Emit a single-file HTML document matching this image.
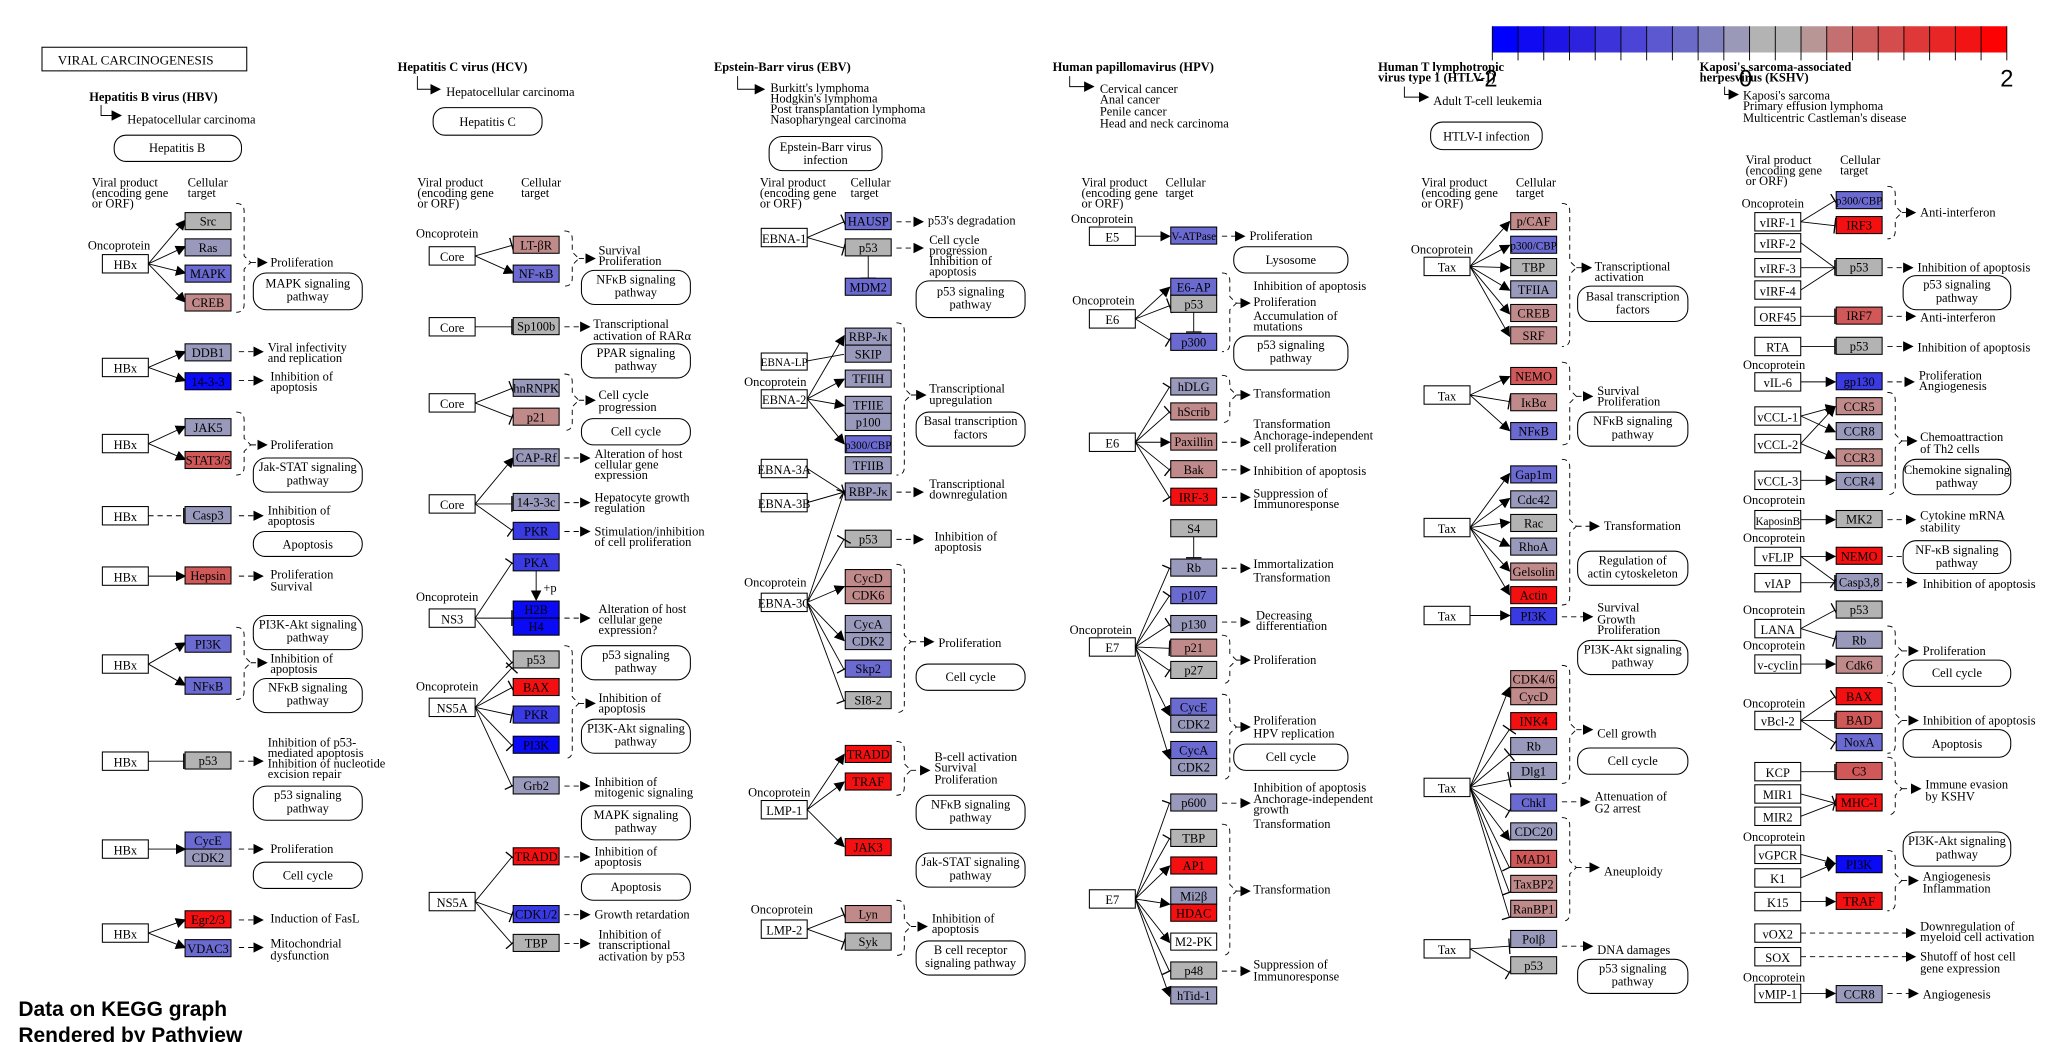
<!DOCTYPE html>
<html><head><meta charset="utf-8"><style>
html,body{margin:0;padding:0;background:#fff;width:2058px;height:1042px;overflow:hidden}
svg{display:block}
text{font-family:"Liberation Serif",serif;font-size:9.5px;fill:#000}
.h{font-weight:bold;font-size:9.5px}
.c{text-anchor:middle}
rect{stroke:#000;stroke-width:0.8}
.w{fill:#fff}.G{fill:#b3b3b3}.L{fill:#9999bb}.B{fill:#6a6ad0}.D{fill:#3a3ae2}.X{fill:#0a0af5}
.P{fill:#c08a8a}.M{fill:#d05858}.R{fill:#f41010}
.pw{fill:#fff;stroke:#000;stroke-width:0.8}
path,line{stroke:#000;stroke-width:0.7;fill:none}
.d{stroke-dasharray:4 3}
</style></head><body>
<svg width="2058" height="1042" viewBox="0 0 1568 794" preserveAspectRatio="none" xmlns="http://www.w3.org/2000/svg">
<defs>
<marker id="a" markerWidth="8" markerHeight="8" refX="7" refY="4" orient="auto" markerUnits="userSpaceOnUse"><path d="M0 0 L8 4 L0 8 Z" style="fill:#000;stroke:none"/></marker>
<marker id="i" markerWidth="2" markerHeight="12" refX="1" refY="6" orient="auto" markerUnits="userSpaceOnUse"><path d="M1 0 L1 12" style="stroke:#000;stroke-width:1"/></marker>
</defs>

<!-- colour bar -->
<g>
<rect x="1137" y="20" width="19.6" height="20" style="fill:#0000ff;stroke:none"/>
<rect x="1156.6" y="20" width="19.6" height="20" style="fill:#0f0af2;stroke:none"/>
<rect x="1176.2" y="20" width="19.6" height="20" style="fill:#1e14e6;stroke:none"/>
<rect x="1195.8" y="20" width="19.6" height="20" style="fill:#2d22de;stroke:none"/>
<rect x="1215.4" y="20" width="19.6" height="20" style="fill:#3c34da;stroke:none"/>
<rect x="1235" y="20" width="19.6" height="20" style="fill:#4b44d6;stroke:none"/>
<rect x="1254.6" y="20" width="19.6" height="20" style="fill:#5c58cf;stroke:none"/>
<rect x="1274.2" y="20" width="19.6" height="20" style="fill:#6c6ac7;stroke:none"/>
<rect x="1293.8" y="20" width="19.6" height="20" style="fill:#8080bf;stroke:none"/>
<rect x="1313.4" y="20" width="19.6" height="20" style="fill:#9a9ab8;stroke:none"/>
<rect x="1333" y="20" width="19.6" height="20" style="fill:#b3b3b3;stroke:none"/>
<rect x="1352.6" y="20" width="19.6" height="20" style="fill:#b3b3b3;stroke:none"/>
<rect x="1372.2" y="20" width="19.6" height="20" style="fill:#b89696;stroke:none"/>
<rect x="1391.8" y="20" width="19.6" height="20" style="fill:#c47070;stroke:none"/>
<rect x="1411.4" y="20" width="19.6" height="20" style="fill:#cc5c5c;stroke:none"/>
<rect x="1431" y="20" width="19.6" height="20" style="fill:#d44c4c;stroke:none"/>
<rect x="1450.6" y="20" width="19.6" height="20" style="fill:#de3838;stroke:none"/>
<rect x="1470.2" y="20" width="19.6" height="20" style="fill:#e82626;stroke:none"/>
<rect x="1489.8" y="20" width="19.6" height="20" style="fill:#f21414;stroke:none"/>
<rect x="1509.4" y="20" width="19.6" height="20" style="fill:#fc0202;stroke:none"/>
<path d="M1137 20 V46 M1156.6 20 V46 M1176.2 20 V46 M1195.8 20 V46 M1215.4 20 V46 M1235 20 V46 M1254.6 20 V46 M1274.2 20 V46 M1293.8 20 V46 M1313.4 20 V46 M1333 20 V46 M1352.6 20 V46 M1372.2 20 V46 M1391.8 20 V46 M1411.4 20 V46 M1431 20 V46 M1450.6 20 V46 M1470.2 20 V46 M1489.8 20 V46 M1509.4 20 V46 M1529 20 V46"/>
<text x="1125" y="66" style="font-family:'Liberation Sans',sans-serif;font-size:18px">-2</text>
<text x="1325" y="66" style="font-family:'Liberation Sans',sans-serif;font-size:18px">0</text>
<text x="1524" y="66" style="font-family:'Liberation Sans',sans-serif;font-size:18px">2</text>
</g>

<rect x="32" y="36" width="156" height="18" class="w"/>
<text x="44" y="49" style="font-size:10px">VIRAL  CARCINOGENESIS</text>
<text x="14" y="774" style="font-family:'Liberation Sans',sans-serif;font-size:16px;font-weight:bold">Data on KEGG graph</text>
<text x="14" y="794" style="font-family:'Liberation Sans',sans-serif;font-size:16px;font-weight:bold">Rendered by Pathview</text>

<!-- ============ HBV ============ -->
<text x="68" y="77" class="h">Hepatitis B virus (HBV)</text>
<path d="M77 80 V88 H92" marker-end="url(#a)"/>
<text x="97" y="94">Hepatocellular carcinoma</text>
<rect x="87" y="103" width="97" height="20" rx="9" class="pw"/><text x="135" y="116" class="c">Hepatitis B</text>
<text x="70" y="142">Viral product</text><text x="70" y="150">(encoding gene</text><text x="70" y="158">or ORF)</text>
<text x="143" y="142">Cellular</text><text x="143" y="150">target</text>

<text x="67" y="190">Oncoprotein</text>
<rect x="78" y="194" width="35" height="14" class="w"/><text x="95.5" y="205" class="c">HBx</text>
<path d="M113 201 L141 168" marker-end="url(#a)"/><path d="M113 201 L141 188" marker-end="url(#a)"/><path d="M113 201 L141 208" marker-end="url(#a)"/><path d="M113 201 L141 230" marker-end="url(#a)"/>
<rect x="141" y="162" width="35" height="13" class="G"/><text x="158.5" y="172" class="c">Src</text>
<rect x="141" y="182" width="35" height="13" class="L"/><text x="158.5" y="192" class="c">Ras</text>
<rect x="141" y="202" width="35" height="13" class="B"/><text x="158.5" y="212" class="c">MAPK</text>
<rect x="141" y="224" width="35" height="13" class="P"/><text x="158.5" y="234" class="c">CREB</text>
<path class="d" d="M180 155 Q186 155 186 161 V195 L191 200 L186 205 V232 Q186 238 180 238"/>
<path class="d" d="M191 200 H203" marker-end="url(#a)"/>
<text x="206" y="203">Proliferation</text>
<rect x="193" y="208" width="83" height="28" rx="10" class="pw"/><text x="234.5" y="219" class="c">MAPK signaling</text><text x="234.5" y="229" class="c">pathway</text>

<rect x="78" y="273" width="35" height="14" class="w"/><text x="95.5" y="284" class="c">HBx</text>
<path d="M113 280 L141 268" marker-end="url(#a)"/><path d="M113 280 L141 290" marker-end="url(#a)"/>
<rect x="141" y="262" width="35" height="13" class="L"/><text x="158.5" y="272" class="c">DDB1</text>
<rect x="141" y="284" width="35" height="13" class="X"/><text x="158.5" y="294" class="c">14-3-3</text>
<path class="d" d="M182 268 H200" marker-end="url(#a)"/><path class="d" d="M182 290 H200" marker-end="url(#a)"/>
<text x="204" y="268">Viral infectivity</text><text x="204" y="276">and replication</text>
<text x="206" y="290">Inhibition of</text><text x="206" y="298">apoptosis</text>

<rect x="78" y="331" width="35" height="14" class="w"/><text x="95.5" y="342" class="c">HBx</text>
<path d="M113 338 L141 325" marker-end="url(#a)"/><path d="M113 338 L141 350" marker-end="url(#a)"/>
<rect x="141" y="319" width="35" height="13" class="L"/><text x="158.5" y="329" class="c">JAK5</text>
<rect x="141" y="344" width="35" height="13" class="M"/><text x="158.5" y="354" class="c">STAT3/5</text>
<path class="d" d="M180 314 Q186 314 186 320 V334 L191 339 L186 344 V356 Q186 362 180 362"/>
<path class="d" d="M191 339 H203" marker-end="url(#a)"/>
<text x="206" y="342">Proliferation</text>
<rect x="193" y="349" width="83" height="26" rx="10" class="pw"/><text x="234.5" y="359" class="c">Jak-STAT signaling</text><text x="234.5" y="369" class="c">pathway</text>

<rect x="78" y="386" width="35" height="14" class="w"/><text x="95.5" y="397" class="c">HBx</text>
<path class="d" d="M113 393 H140" marker-end="url(#i)"/>
<rect x="141" y="386" width="35" height="13" class="L"/><text x="158.5" y="396" class="c">Casp3</text>
<path class="d" d="M182 393 H200" marker-end="url(#a)"/>
<text x="204" y="392">Inhibition of</text><text x="204" y="400">apoptosis</text>
<rect x="193" y="405" width="83" height="19" rx="9" class="pw"/><text x="234.5" y="418" class="c">Apoptosis</text>

<rect x="78" y="432" width="35" height="14" class="w"/><text x="95.5" y="443" class="c">HBx</text>
<path d="M113 439 H141" marker-end="url(#a)"/>
<rect x="141" y="432" width="35" height="13" class="M"/><text x="158.5" y="442" class="c">Hepsin</text>
<path class="d" d="M182 439 H200" marker-end="url(#a)"/>
<text x="206" y="441">Proliferation</text><text x="206" y="450">Survival</text>

<rect x="193" y="469" width="83" height="26" rx="10" class="pw"/><text x="234.5" y="479" class="c">PI3K-Akt signaling</text><text x="234.5" y="489" class="c">pathway</text>
<rect x="78" y="499" width="35" height="14" class="w"/><text x="95.5" y="510" class="c">HBx</text>
<path d="M113 506 L141 490" marker-end="url(#a)"/><path d="M113 506 L141 522" marker-end="url(#a)"/>
<rect x="141" y="484" width="35" height="13" class="B"/><text x="158.5" y="494" class="c">PI3K</text>
<rect x="141" y="516" width="35" height="13" class="B"/><text x="158.5" y="526" class="c">NFκB</text>
<path class="d" d="M180 478 Q186 478 186 484 V500 L191 505 L186 510 V527 Q186 533 180 533"/>
<path class="d" d="M191 505 H203" marker-end="url(#a)"/>
<text x="206" y="505">Inhibition of</text><text x="206" y="513">apoptosis</text>
<rect x="193" y="517" width="83" height="26" rx="10" class="pw"/><text x="234.5" y="527" class="c">NFκB signaling</text><text x="234.5" y="537" class="c">pathway</text>

<rect x="78" y="573" width="35" height="14" class="w"/><text x="95.5" y="584" class="c">HBx</text>
<path d="M113 580 H140" marker-end="url(#i)"/>
<rect x="141" y="573" width="35" height="13" class="G"/><text x="158.5" y="583" class="c">p53</text>
<path class="d" d="M182 580 H200" marker-end="url(#a)"/>
<text x="204" y="569">Inhibition of p53-</text><text x="204" y="577">mediated apoptosis</text><text x="204" y="585">Inhibition of nucleotide</text><text x="204" y="593">excision repair</text>
<rect x="193" y="599" width="83" height="26" rx="10" class="pw"/><text x="234.5" y="609" class="c">p53 signaling</text><text x="234.5" y="619" class="c">pathway</text>

<rect x="78" y="640" width="35" height="14" class="w"/><text x="95.5" y="651" class="c">HBx</text>
<path d="M113 647 H141" marker-end="url(#a)"/>
<rect x="141" y="634" width="35" height="13" class="B"/><text x="158.5" y="644" class="c">CycE</text>
<rect x="141" y="647" width="35" height="13" class="L"/><text x="158.5" y="657" class="c">CDK2</text>
<path class="d" d="M182 647 H200" marker-end="url(#a)"/>
<text x="206" y="650">Proliferation</text>
<rect x="193" y="657" width="83" height="20" rx="9" class="pw"/><text x="234.5" y="670" class="c">Cell cycle</text>

<rect x="78" y="704" width="35" height="14" class="w"/><text x="95.5" y="715" class="c">HBx</text>
<path d="M113 711 L141 701" marker-end="url(#a)"/><path d="M113 711 L141 722" marker-end="url(#a)"/>
<rect x="141" y="694" width="35" height="13" class="R"/><text x="158.5" y="704" class="c">Egr2/3</text>
<rect x="141" y="716" width="35" height="13" class="B"/><text x="158.5" y="726" class="c">VDAC3</text>
<path class="d" d="M182 701 H200" marker-end="url(#a)"/><path class="d" d="M182 722 H200" marker-end="url(#a)"/>
<text x="206" y="703">Induction of FasL</text>
<text x="206" y="722">Mitochondrial</text><text x="206" y="731">dysfunction</text>

<!-- ============ HCV ============ -->
<text x="303" y="54" class="h">Hepatitis C virus (HCV)</text>
<path d="M318 58 V68 H335" marker-end="url(#a)"/>
<text x="340" y="73">Hepatocellular carcinoma</text>
<rect x="330" y="82" width="83" height="21" rx="9" class="pw"/><text x="371.5" y="96" class="c">Hepatitis C</text>
<text x="318" y="142">Viral product</text><text x="318" y="150">(encoding gene</text><text x="318" y="158">or ORF)</text>
<text x="397" y="142">Cellular</text><text x="397" y="150">target</text>

<text x="317" y="181">Oncoprotein</text>
<rect x="327" y="188" width="35" height="14" class="w"/><text x="344.5" y="199" class="c">Core</text>
<path d="M362 195 L390 187" marker-end="url(#i)"/><path d="M362 195 L391 208" marker-end="url(#a)"/>
<rect x="391" y="180" width="35" height="13" class="P"/><text x="408.5" y="190" class="c">LT-βR</text>
<rect x="391" y="202" width="35" height="13" class="B"/><text x="408.5" y="212" class="c">NF-κB</text>
<path class="d" d="M430 176 Q436 176 436 182 V192 L441 197 L436 202 V212 Q436 218 430 218"/>
<path class="d" d="M441 197 H453" marker-end="url(#a)"/>
<text x="456" y="194">Survival</text><text x="456" y="202">Proliferation</text>
<rect x="443" y="206" width="83" height="26" rx="10" class="pw"/><text x="484.5" y="216" class="c">NFκB signaling</text><text x="484.5" y="226" class="c">pathway</text>

<rect x="327" y="242" width="35" height="14" class="w"/><text x="344.5" y="253" class="c">Core</text>
<path d="M362 249 H390" marker-end="url(#i)"/>
<rect x="391" y="242" width="35" height="13" class="G"/><text x="408.5" y="252" class="c">Sp100b</text>
<path class="d" d="M430 249 H449" marker-end="url(#a)"/>
<text x="452" y="250">Transcriptional</text><text x="452" y="259">activation of RARα</text>
<rect x="443" y="262" width="83" height="26" rx="10" class="pw"/><text x="484.5" y="272" class="c">PPAR signaling</text><text x="484.5" y="282" class="c">pathway</text>

<rect x="327" y="300" width="35" height="14" class="w"/><text x="344.5" y="311" class="c">Core</text>
<path d="M362 307 L390 296" marker-end="url(#i)"/><path d="M362 307 L390 318" marker-end="url(#i)"/>
<rect x="391" y="289" width="35" height="13" class="L"/><text x="408.5" y="299" class="c">hnRNPK</text>
<rect x="391" y="311" width="35" height="13" class="P"/><text x="408.5" y="321" class="c">p21</text>
<path class="d" d="M430 285 Q436 285 436 291 V300 L441 305 L436 310 V322 Q436 328 430 328"/>
<path class="d" d="M441 305 H453" marker-end="url(#a)"/>
<text x="456" y="304">Cell cycle</text><text x="456" y="313">progression</text>
<rect x="443" y="319" width="83" height="20" rx="9" class="pw"/><text x="484.5" y="332" class="c">Cell cycle</text>

<rect x="327" y="377" width="35" height="14" class="w"/><text x="344.5" y="388" class="c">Core</text>
<path d="M362 384 L391 349" marker-end="url(#a)"/><path d="M362 384 H390" marker-end="url(#i)"/><path d="M362 384 L390 404" marker-end="url(#i)"/>
<rect x="391" y="342" width="35" height="13" class="L"/><text x="408.5" y="352" class="c">CAP-Rf</text>
<rect x="391" y="376" width="35" height="13" class="L"/><text x="408.5" y="386" class="c">14-3-3c</text>
<rect x="391" y="398" width="35" height="13" class="D"/><text x="408.5" y="408" class="c">PKR</text>
<path class="d" d="M430 349 H449" marker-end="url(#a)"/><path class="d" d="M430 383 H449" marker-end="url(#a)"/><path class="d" d="M430 405 H449" marker-end="url(#a)"/>
<text x="453" y="349">Alteration of host</text><text x="453" y="357">cellular gene</text><text x="453" y="365">expression</text>
<text x="453" y="382">Hepatocyte growth</text><text x="453" y="390">regulation</text>
<text x="453" y="408">Stimulation/inhibition</text><text x="453" y="416">of cell proliferation</text>

<text x="317" y="458">Oncoprotein</text>
<rect x="327" y="464" width="35" height="14" class="w"/><text x="344.5" y="475" class="c">NS3</text>
<path d="M362 471 L390 429" marker-end="url(#i)"/><path d="M362 471 H390" marker-end="url(#i)"/><path d="M362 471 L390 505" marker-end="url(#i)"/>
<rect x="391" y="422" width="35" height="13" class="D"/><text x="408.5" y="432" class="c">PKA</text>
<path d="M408.5 435 V457" marker-end="url(#a)"/><text x="414" y="451">+p</text>
<rect x="391" y="458" width="35" height="13" class="X"/><text x="408.5" y="468" class="c">H2B</text>
<rect x="391" y="471" width="35" height="13" class="X"/><text x="408.5" y="481" class="c">H4</text>
<path class="d" d="M430 471 H449" marker-end="url(#a)"/>
<text x="456" y="467">Alteration of host</text><text x="456" y="475">cellular gene</text><text x="456" y="483">expression?</text>

<text x="317" y="526">Oncoprotein</text>
<rect x="327" y="532" width="35" height="14" class="w"/><text x="344.5" y="543" class="c">NS5A</text>
<path d="M362 539 L390 509" marker-end="url(#i)"/><path d="M362 539 L390 524" marker-end="url(#i)"/><path d="M362 539 L390 545" marker-end="url(#i)"/><path d="M362 539 L390 568" marker-end="url(#i)"/><path d="M362 539 L390 599" marker-end="url(#i)"/>
<rect x="391" y="496" width="35" height="13" class="G"/><text x="408.5" y="506" class="c">p53</text>
<rect x="391" y="517" width="35" height="13" class="R"/><text x="408.5" y="527" class="c">BAX</text>
<rect x="391" y="538" width="35" height="13" class="D"/><text x="408.5" y="548" class="c">PKR</text>
<rect x="391" y="561" width="35" height="13" class="X"/><text x="408.5" y="571" class="c">PI3K</text>
<path class="d" d="M430 492 Q436 492 436 498 V531 L441 536 L436 541 V572 Q436 578 430 578"/>
<path class="d" d="M441 536 H453" marker-end="url(#a)"/>
<rect x="443" y="492" width="83" height="26" rx="10" class="pw"/><text x="484.5" y="502" class="c">p53 signaling</text><text x="484.5" y="512" class="c">pathway</text>
<text x="456" y="535">Inhibition of</text><text x="456" y="543">apoptosis</text>
<rect x="443" y="548" width="83" height="26" rx="10" class="pw"/><text x="484.5" y="558" class="c">PI3K-Akt signaling</text><text x="484.5" y="568" class="c">pathway</text>
<rect x="391" y="592" width="35" height="13" class="L"/><text x="408.5" y="602" class="c">Grb2</text>
<path class="d" d="M430 599 H449" marker-end="url(#a)"/>
<text x="453" y="599">Inhibition of</text><text x="453" y="607">mitogenic signaling</text>
<rect x="443" y="614" width="83" height="26" rx="10" class="pw"/><text x="484.5" y="624" class="c">MAPK signaling</text><text x="484.5" y="634" class="c">pathway</text>

<rect x="327" y="680" width="35" height="14" class="w"/><text x="344.5" y="691" class="c">NS5A</text>
<path d="M362 687 L390 653" marker-end="url(#i)"/><path d="M362 687 L390 697" marker-end="url(#i)"/><path d="M362 687 L390 719" marker-end="url(#i)"/>
<rect x="391" y="646" width="35" height="13" class="R"/><text x="408.5" y="656" class="c">TRADD</text>
<rect x="391" y="690" width="35" height="13" class="D"/><text x="408.5" y="700" class="c">CDK1/2</text>
<rect x="391" y="712" width="35" height="13" class="G"/><text x="408.5" y="722" class="c">TBP</text>
<path class="d" d="M430 653 H449" marker-end="url(#a)"/><path class="d" d="M430 697 H449" marker-end="url(#a)"/><path class="d" d="M430 719 H449" marker-end="url(#a)"/>
<text x="453" y="652">Inhibition of</text><text x="453" y="660">apoptosis</text>
<rect x="443" y="666" width="83" height="20" rx="9" class="pw"/><text x="484.5" y="679" class="c">Apoptosis</text>
<text x="453" y="700">Growth retardation</text>
<text x="456" y="715">Inhibition of</text><text x="456" y="723">transcriptional</text><text x="456" y="732">activation by p53</text>

<!-- ============ EBV ============ -->
<text x="544" y="54" class="h">Epstein-Barr virus (EBV)</text>
<path d="M562 58 V68 H582" marker-end="url(#a)"/>
<text x="587" y="70">Burkitt's lymphoma</text><text x="587" y="78">Hodgkin's lymphoma</text><text x="587" y="86">Post transplantation lymphoma</text><text x="587" y="94">Nasopharyngeal carcinoma</text>
<rect x="586" y="104" width="86" height="26" rx="10" class="pw"/><text x="629" y="115" class="c">Epstein-Barr virus</text><text x="629" y="125" class="c">infection</text>
<text x="579" y="142">Viral product</text><text x="579" y="150">(encoding gene</text><text x="579" y="158">or ORF)</text>
<text x="648" y="142">Cellular</text><text x="648" y="150">target</text>

<rect x="580" y="174" width="35" height="14" class="w"/><text x="597.5" y="185" class="c">EBNA-1</text>
<path d="M615 181 L643 169" marker-end="url(#i)"/><path d="M615 181 L643 189" marker-end="url(#i)"/>
<rect x="644" y="162" width="35" height="13" class="B"/><text x="661.5" y="172" class="c">HAUSP</text>
<rect x="644" y="182" width="35" height="13" class="G"/><text x="661.5" y="192" class="c">p53</text>
<path d="M661.5 195 V212" marker-end="url(#i)"/>
<rect x="644" y="212" width="35" height="13" class="B"/><text x="661.5" y="222" class="c">MDM2</text>
<path class="d" d="M683 169 H703" marker-end="url(#a)"/><path class="d" d="M683 189 H703" marker-end="url(#a)"/>
<text x="707" y="171">p53's degradation</text>
<text x="708" y="186">Cell cycle</text><text x="708" y="194">progression</text><text x="708" y="202">Inhibition of</text><text x="708" y="210">apoptosis</text>
<rect x="698" y="214" width="83" height="28" rx="10" class="pw"/><text x="739.5" y="225" class="c">p53 signaling</text><text x="739.5" y="235" class="c">pathway</text>

<rect x="580" y="269" width="35" height="13" class="w"/><text x="597.5" y="279" class="c" style="font-size:8.5px">EBNA-LP</text>
<text x="567" y="294">Oncoprotein</text>
<rect x="580" y="297" width="35" height="14" class="w"/><text x="597.5" y="308" class="c">EBNA-2</text>
<path d="M615 304 L643 256" marker-end="url(#a)"/><path d="M615 304 L643 289" marker-end="url(#a)"/><path d="M615 304 L643 309" marker-end="url(#a)"/><path d="M615 304 L643 338" marker-end="url(#a)"/><path d="M615 275 L643 270"/>
<rect x="644" y="250" width="35" height="13" class="L"/><text x="661.5" y="260" class="c">RBP-Jκ</text>
<rect x="644" y="263" width="35" height="13" class="L"/><text x="661.5" y="273" class="c">SKIP</text>
<rect x="644" y="282" width="35" height="13" class="L"/><text x="661.5" y="292" class="c">TFIIH</text>
<rect x="644" y="302" width="35" height="13" class="L"/><text x="661.5" y="312" class="c">TFIIE</text>
<rect x="644" y="315" width="35" height="13" class="L"/><text x="661.5" y="325" class="c">p100</text>
<rect x="644" y="332" width="35" height="13" class="B"/><text x="661.5" y="342" class="c" style="font-size:8.5px">p300/CBP</text>
<rect x="644" y="348" width="35" height="13" class="L"/><text x="661.5" y="358" class="c">TFIIB</text>
<path class="d" d="M683 246 Q689 246 689 252 V296 L694 301 L689 306 V356 Q689 362 683 362"/>
<path class="d" d="M694 301 H705" marker-end="url(#a)"/>
<text x="708" y="299">Transcriptional</text><text x="708" y="308">upregulation</text>
<rect x="698" y="314" width="83" height="26" rx="10" class="pw"/><text x="739.5" y="324" class="c">Basal transcription</text><text x="739.5" y="334" class="c">factors</text>

<rect x="580" y="350" width="35" height="14" class="w"/><text x="597.5" y="361" class="c">EBNA-3A</text>
<rect x="580" y="376" width="35" height="14" class="w"/><text x="597.5" y="387" class="c">EBNA-3B</text>
<path d="M615 357 L643 375" marker-end="url(#i)"/><path d="M615 383 L643 375" marker-end="url(#i)"/><path d="M615 459 L643 375" marker-end="url(#i)"/>
<rect x="644" y="368" width="35" height="13" class="L"/><text x="661.5" y="378" class="c">RBP-Jκ</text>
<path class="d" d="M683 375 H703" marker-end="url(#a)"/>
<text x="708" y="372">Transcriptional</text><text x="708" y="380">downregulation</text>

<rect x="644" y="404" width="35" height="13" class="G"/><text x="661.5" y="414" class="c">p53</text>
<path d="M615 459 L643 411" marker-end="url(#i)"/>
<path class="d" d="M683 411 H703" marker-end="url(#a)"/>
<text x="712" y="412">Inhibition of</text><text x="712" y="420">apoptosis</text>
<text x="567" y="447">Oncoprotein</text>
<rect x="580" y="452" width="35" height="14" class="w"/><text x="597.5" y="463" class="c">EBNA-3C</text>
<path d="M615 459 L643 447" marker-end="url(#a)"/><path d="M615 459 L643 488" marker-end="url(#a)"/><path d="M615 459 L643 510" marker-end="url(#i)"/><path d="M615 459 L643 534" marker-end="url(#i)"/>
<rect x="644" y="434" width="35" height="13" class="P"/><text x="661.5" y="444" class="c">CycD</text>
<rect x="644" y="447" width="35" height="13" class="P"/><text x="661.5" y="457" class="c">CDK6</text>
<rect x="644" y="469" width="35" height="13" class="L"/><text x="661.5" y="479" class="c">CycA</text>
<rect x="644" y="482" width="35" height="13" class="L"/><text x="661.5" y="492" class="c">CDK2</text>
<rect x="644" y="503" width="35" height="13" class="B"/><text x="661.5" y="513" class="c">Skp2</text>
<rect x="644" y="527" width="35" height="13" class="G"/><text x="661.5" y="537" class="c">SI8-2</text>
<path class="d" d="M683 430 Q689 430 689 436 V484 L694 489 L689 494 V537 Q689 543 683 543"/>
<path class="d" d="M694 489 H711" marker-end="url(#a)"/>
<text x="715" y="493">Proliferation</text>
<rect x="698" y="506" width="83" height="20" rx="9" class="pw"/><text x="739.5" y="519" class="c">Cell cycle</text>

<text x="570" y="607">Oncoprotein</text>
<rect x="580" y="610" width="35" height="14" class="w"/><text x="597.5" y="621" class="c">LMP-1</text>
<path d="M615 617 L643 575" marker-end="url(#a)"/><path d="M615 617 L643 596" marker-end="url(#a)"/><path d="M615 617 L643 645" marker-end="url(#a)"/>
<rect x="644" y="568" width="35" height="13" class="R"/><text x="661.5" y="578" class="c">TRADD</text>
<rect x="644" y="589" width="35" height="13" class="R"/><text x="661.5" y="599" class="c">TRAF</text>
<rect x="644" y="639" width="35" height="13" class="R"/><text x="661.5" y="649" class="c">JAK3</text>
<path class="d" d="M683 565 Q689 565 689 571 V582 L694 587 L689 592 V600 Q689 606 683 606"/>
<path class="d" d="M694 587 H708" marker-end="url(#a)"/>
<text x="712" y="580">B-cell activation</text><text x="712" y="588">Survival</text><text x="712" y="597">Proliferation</text>
<rect x="698" y="606" width="83" height="26" rx="10" class="pw"/><text x="739.5" y="616" class="c">NFκB signaling</text><text x="739.5" y="626" class="c">pathway</text>
<rect x="698" y="650" width="83" height="26" rx="10" class="pw"/><text x="739.5" y="660" class="c">Jak-STAT signaling</text><text x="739.5" y="670" class="c">pathway</text>

<text x="572" y="696">Oncoprotein</text>
<rect x="580" y="701" width="35" height="14" class="w"/><text x="597.5" y="712" class="c">LMP-2</text>
<path d="M615 708 L643 697" marker-end="url(#i)"/><path d="M615 708 L643 718" marker-end="url(#i)"/>
<rect x="644" y="690" width="35" height="13" class="P"/><text x="661.5" y="700" class="c">Lyn</text>
<rect x="644" y="711" width="35" height="13" class="G"/><text x="661.5" y="721" class="c">Syk</text>
<path class="d" d="M683 686 Q689 686 689 692 V701 L694 706 L689 711 V722 Q689 728 683 728"/>
<path class="d" d="M694 706 H706" marker-end="url(#a)"/>
<text x="710" y="703">Inhibition of</text><text x="710" y="711">apoptosis</text>
<rect x="698" y="717" width="83" height="26" rx="10" class="pw"/><text x="739.5" y="727" class="c">B cell receptor</text><text x="739.5" y="737" class="c">signaling pathway</text>

<!-- ============ HPV ============ -->
<text x="802" y="54" class="h">Human papillomavirus (HPV)</text>
<path d="M815 58 V66 H833" marker-end="url(#a)"/>
<text x="838" y="71">Cervical cancer</text><text x="838" y="79">Anal cancer</text><text x="838" y="88">Penile cancer</text><text x="838" y="97">Head and neck carcinoma</text>
<text x="824" y="142">Viral product</text><text x="824" y="150">(encoding gene</text><text x="824" y="158">or ORF)</text>
<text x="888" y="142">Cellular</text><text x="888" y="150">target</text>

<text x="816" y="170">Oncoprotein</text>
<rect x="830" y="173" width="35" height="14" class="w"/><text x="847.5" y="184" class="c">E5</text>
<path d="M865 180 H891" marker-end="url(#a)"/>
<rect x="892" y="173" width="35" height="13" class="B"/><text x="909.5" y="183" class="c" style="font-size:8.5px">V-ATPase</text>
<path class="d" d="M931 180 H948" marker-end="url(#a)"/>
<text x="952" y="183">Proliferation</text>
<rect x="940" y="188" width="87" height="20" rx="9" class="pw"/><text x="983.5" y="201" class="c">Lysosome</text>

<text x="817" y="232">Oncoprotein</text>
<rect x="830" y="236" width="35" height="14" class="w"/><text x="847.5" y="247" class="c">E6</text>
<path d="M865 243 L891 219" marker-end="url(#a)"/><path d="M865 243 L891 233" marker-end="url(#i)"/><path d="M865 243 L891 259" marker-end="url(#i)"/>
<rect x="892" y="212" width="35" height="13" class="B"/><text x="909.5" y="222" class="c">E6-AP</text>
<rect x="892" y="225" width="35" height="13" class="G"/><text x="909.5" y="235" class="c">p53</text>
<path d="M909.5 238 V253" marker-end="url(#i)"/>
<rect x="892" y="254" width="35" height="13" class="B"/><text x="909.5" y="264" class="c">p300</text>
<path class="d" d="M931 208 Q937 208 937 214 V226 L942 231 L937 236 V262 Q937 268 931 268"/>
<path class="d" d="M942 231 H952" marker-end="url(#a)"/>
<text x="955" y="221">Inhibition of apoptosis</text><text x="955" y="233">Proliferation</text><text x="955" y="244">Accumulation of</text><text x="955" y="252">mutations</text>
<rect x="940" y="256" width="87" height="26" rx="10" class="pw"/><text x="983.5" y="266" class="c">p53 signaling</text><text x="983.5" y="276" class="c">pathway</text>

<rect x="830" y="330" width="35" height="14" class="w"/><text x="847.5" y="341" class="c">E6</text>
<path d="M865 337 L891 295" marker-end="url(#i)"/><path d="M865 337 L891 314" marker-end="url(#i)"/><path d="M865 337 H891" marker-end="url(#a)"/><path d="M865 337 L891 358" marker-end="url(#i)"/><path d="M865 337 L891 379" marker-end="url(#i)"/>
<rect x="892" y="288" width="35" height="13" class="L"/><text x="909.5" y="298" class="c">hDLG</text>
<rect x="892" y="307" width="35" height="13" class="P"/><text x="909.5" y="317" class="c">hScrib</text>
<rect x="892" y="330" width="35" height="13" class="P"/><text x="909.5" y="340" class="c">Paxillin</text>
<rect x="892" y="351" width="35" height="13" class="P"/><text x="909.5" y="361" class="c">Bak</text>
<rect x="892" y="372" width="35" height="13" class="R"/><text x="909.5" y="382" class="c">IRF-3</text>
<path class="d" d="M931 286 Q937 286 937 292 V296 L942 301 L937 306 V316 Q937 322 931 322"/>
<path class="d" d="M942 301 H952" marker-end="url(#a)"/>
<path class="d" d="M931 337 H952" marker-end="url(#a)"/><path class="d" d="M931 358 H952" marker-end="url(#a)"/><path class="d" d="M931 379 H952" marker-end="url(#a)"/>
<text x="955" y="303">Transformation</text>
<text x="955" y="326">Transformation</text><text x="955" y="335">Anchorage-independent</text><text x="955" y="344">cell proliferation</text>
<text x="955" y="362">Inhibition of apoptosis</text>
<text x="955" y="379">Suppression of</text><text x="955" y="387">Immunoresponse</text>

<text x="815" y="483">Oncoprotein</text>
<rect x="830" y="486" width="35" height="14" class="w"/><text x="847.5" y="497" class="c">E7</text>
<path d="M865 493 L891 433" marker-end="url(#i)"/><path d="M865 493 L891 454" marker-end="url(#i)"/><path d="M865 493 L891 476" marker-end="url(#i)"/><path d="M865 493 L891 494" marker-end="url(#i)"/><path d="M865 493 L891 511" marker-end="url(#i)"/><path d="M865 493 L891 545" marker-end="url(#a)"/><path d="M865 493 L891 578" marker-end="url(#a)"/>
<rect x="892" y="396" width="35" height="13" class="G"/><text x="909.5" y="406" class="c">S4</text>
<path d="M909.5 409 V425" marker-end="url(#i)"/>
<rect x="892" y="426" width="35" height="13" class="L"/><text x="909.5" y="436" class="c">Rb</text>
<rect x="892" y="447" width="35" height="13" class="B"/><text x="909.5" y="457" class="c">p107</text>
<rect x="892" y="469" width="35" height="13" class="L"/><text x="909.5" y="479" class="c">p130</text>
<rect x="892" y="487" width="35" height="13" class="P"/><text x="909.5" y="497" class="c">p21</text>
<rect x="892" y="504" width="35" height="13" class="G"/><text x="909.5" y="514" class="c">p27</text>
<rect x="892" y="532" width="35" height="13" class="B"/><text x="909.5" y="542" class="c">CycE</text>
<rect x="892" y="545" width="35" height="13" class="L"/><text x="909.5" y="555" class="c">CDK2</text>
<rect x="892" y="565" width="35" height="13" class="B"/><text x="909.5" y="575" class="c">CycA</text>
<rect x="892" y="578" width="35" height="13" class="L"/><text x="909.5" y="588" class="c">CDK2</text>
<path class="d" d="M931 433 H952" marker-end="url(#a)"/><path class="d" d="M931 474 H952" marker-end="url(#a)"/>
<path class="d" d="M931 484 Q937 484 937 490 V498 L942 503 L937 508 V515 Q937 521 931 521"/><path class="d" d="M942 503 H952" marker-end="url(#a)"/>
<path class="d" d="M931 529 Q937 529 937 535 V549 L942 554 L937 559 V588 Q937 594 931 594"/><path class="d" d="M942 554 H952" marker-end="url(#a)"/>
<text x="955" y="433">Immortalization</text><text x="955" y="443">Transformation</text>
<text x="957" y="472">Decreasing</text><text x="957" y="480">differentiation</text>
<text x="955" y="506">Proliferation</text>
<text x="955" y="552">Proliferation</text><text x="955" y="562">HPV replication</text>
<rect x="940" y="567" width="87" height="20" rx="9" class="pw"/><text x="983.5" y="580" class="c">Cell cycle</text>

<rect x="830" y="678" width="35" height="14" class="w"/><text x="847.5" y="689" class="c">E7</text>
<path d="M865 685 L891 612" marker-end="url(#i)"/><path d="M865 685 L891 639" marker-end="url(#i)"/><path d="M865 685 L891 660" marker-end="url(#a)"/><path d="M865 685 L891 689" marker-end="url(#a)"/><path d="M865 685 L891 718" marker-end="url(#a)"/><path d="M865 685 L891 740" marker-end="url(#i)"/><path d="M865 685 L891 759" marker-end="url(#a)"/>
<rect x="892" y="605" width="35" height="13" class="L"/><text x="909.5" y="615" class="c">p600</text>
<rect x="892" y="632" width="35" height="13" class="G"/><text x="909.5" y="642" class="c">TBP</text>
<rect x="892" y="653" width="35" height="13" class="R"/><text x="909.5" y="663" class="c">AP1</text>
<rect x="892" y="676" width="35" height="13" class="L"/><text x="909.5" y="686" class="c">Mi2β</text>
<rect x="892" y="689" width="35" height="13" class="R"/><text x="909.5" y="699" class="c">HDAC</text>
<rect x="892" y="711" width="35" height="13" class="w"/><text x="909.5" y="721" class="c">M2-PK</text>
<rect x="892" y="733" width="35" height="13" class="G"/><text x="909.5" y="743" class="c">p48</text>
<rect x="892" y="752" width="35" height="13" class="L"/><text x="909.5" y="762" class="c">hTid-1</text>
<path class="d" d="M931 612 H952" marker-end="url(#a)"/>
<path class="d" d="M931 628 Q937 628 937 634 V674 L942 679 L937 684 V722 Q937 728 931 728"/><path class="d" d="M942 679 H952" marker-end="url(#a)"/>
<path class="d" d="M931 740 H952" marker-end="url(#a)"/>
<text x="955" y="603">Inhibition of apoptosis</text><text x="955" y="612">Anchorage-independent</text><text x="955" y="620">growth</text><text x="955" y="631">Transformation</text>
<text x="955" y="681">Transformation</text>
<text x="955" y="738">Suppression of</text><text x="955" y="747">Immunoresponse</text>

<!-- ============ HTLV-1 ============ -->
<text x="1050" y="54" class="h">Human T lymphotropic</text><text x="1050" y="62" class="h">virus type 1 (HTLV-1)</text>
<path d="M1070 66 V74 H1088" marker-end="url(#a)"/>
<text x="1092" y="80">Adult T-cell leukemia</text>
<rect x="1090" y="93" width="85" height="21" rx="9" class="pw"/><text x="1132.5" y="107" class="c">HTLV-I infection</text>
<text x="1083" y="142">Viral product</text><text x="1083" y="150">(encoding gene</text><text x="1083" y="158">or ORF)</text>
<text x="1155" y="142">Cellular</text><text x="1155" y="150">target</text>

<text x="1075" y="193">Oncoprotein</text>
<rect x="1085" y="196" width="35" height="14" class="w"/><text x="1102.5" y="207" class="c">Tax</text>
<path d="M1120 203 L1150 169" marker-end="url(#a)"/><path d="M1120 203 L1150 187" marker-end="url(#a)"/><path d="M1120 203 L1150 204" marker-end="url(#a)"/><path d="M1120 203 L1150 221" marker-end="url(#a)"/><path d="M1120 203 L1150 239" marker-end="url(#a)"/><path d="M1120 203 L1150 256" marker-end="url(#a)"/>
<rect x="1151" y="162" width="35" height="13" class="P"/><text x="1168.5" y="172" class="c">p/CAF</text>
<rect x="1151" y="180" width="35" height="13" class="B"/><text x="1168.5" y="190" class="c" style="font-size:8.5px">p300/CBP</text>
<rect x="1151" y="197" width="35" height="13" class="G"/><text x="1168.5" y="207" class="c">TBP</text>
<rect x="1151" y="214" width="35" height="13" class="L"/><text x="1168.5" y="224" class="c">TFIIA</text>
<rect x="1151" y="232" width="35" height="13" class="P"/><text x="1168.5" y="242" class="c">CREB</text>
<rect x="1151" y="249" width="35" height="13" class="P"/><text x="1168.5" y="259" class="c">SRF</text>
<path class="d" d="M1190 155 Q1196 155 1196 161 V199 L1201 204 L1196 209 V258 Q1196 264 1190 264"/>
<path class="d" d="M1201 204 H1212" marker-end="url(#a)"/>
<text x="1215" y="206">Transcriptional</text><text x="1215" y="214">activation</text>
<rect x="1202" y="218" width="84" height="27" rx="10" class="pw"/><text x="1244" y="229" class="c">Basal transcription</text><text x="1244" y="239" class="c">factors</text>

<rect x="1085" y="294" width="35" height="14" class="w"/><text x="1102.5" y="305" class="c">Tax</text>
<path d="M1120 301 L1150 287" marker-end="url(#a)"/><path d="M1120 301 L1150 306" marker-end="url(#i)"/><path d="M1120 301 L1150 328" marker-end="url(#a)"/>
<rect x="1151" y="280" width="35" height="13" class="M"/><text x="1168.5" y="290" class="c">NEMO</text>
<rect x="1151" y="300" width="35" height="13" class="P"/><text x="1168.5" y="310" class="c">IκBα</text>
<rect x="1151" y="322" width="35" height="13" class="B"/><text x="1168.5" y="332" class="c">NFκB</text>
<path class="d" d="M1190 276 Q1196 276 1196 282 V297 L1201 302 L1196 307 V333 Q1196 339 1190 339"/>
<path class="d" d="M1201 302 H1213" marker-end="url(#a)"/>
<text x="1217" y="301">Survival</text><text x="1217" y="309">Proliferation</text>
<rect x="1202" y="314" width="84" height="26" rx="10" class="pw"/><text x="1244" y="324" class="c">NFκB signaling</text><text x="1244" y="334" class="c">pathway</text>

<rect x="1085" y="395" width="35" height="14" class="w"/><text x="1102.5" y="406" class="c">Tax</text>
<path d="M1120 402 L1150 361" marker-end="url(#a)"/><path d="M1120 402 L1150 380" marker-end="url(#a)"/><path d="M1120 402 L1150 398" marker-end="url(#a)"/><path d="M1120 402 L1150 416" marker-end="url(#a)"/><path d="M1120 402 L1150 435" marker-end="url(#a)"/><path d="M1120 402 L1150 453" marker-end="url(#a)"/>
<rect x="1151" y="355" width="35" height="13" class="B"/><text x="1168.5" y="365" class="c">Gap1m</text>
<rect x="1151" y="374" width="35" height="13" class="L"/><text x="1168.5" y="384" class="c">Cdc42</text>
<rect x="1151" y="392" width="35" height="13" class="G"/><text x="1168.5" y="402" class="c">Rac</text>
<rect x="1151" y="410" width="35" height="13" class="L"/><text x="1168.5" y="420" class="c">RhoA</text>
<rect x="1151" y="429" width="35" height="13" class="P"/><text x="1168.5" y="439" class="c">Gelsolin</text>
<rect x="1151" y="447" width="35" height="13" class="R"/><text x="1168.5" y="457" class="c">Actin</text>
<path class="d" d="M1190 350 Q1196 350 1196 356 V396 L1201 401 L1196 406 V455 Q1196 461 1190 461"/>
<path class="d" d="M1201 401 H1218" marker-end="url(#a)"/>
<text x="1222" y="404">Transformation</text>
<rect x="1202" y="420" width="84" height="26" rx="10" class="pw"/><text x="1244" y="430" class="c">Regulation of</text><text x="1244" y="440" class="c">actin cytoskeleton</text>

<rect x="1085" y="462" width="35" height="14" class="w"/><text x="1102.5" y="473" class="c">Tax</text>
<path d="M1120 469 H1150" marker-end="url(#a)"/>
<rect x="1151" y="463" width="35" height="13" class="D"/><text x="1168.5" y="473" class="c">PI3K</text>
<path class="d" d="M1190 470 H1213" marker-end="url(#a)"/>
<text x="1217" y="466">Survival</text><text x="1217" y="475">Growth</text><text x="1217" y="483">Proliferation</text>
<rect x="1202" y="488" width="84" height="26" rx="10" class="pw"/><text x="1244" y="498" class="c">PI3K-Akt signaling</text><text x="1244" y="508" class="c">pathway</text>

<rect x="1085" y="593" width="35" height="14" class="w"/><text x="1102.5" y="604" class="c">Tax</text>
<path d="M1120 600 L1150 524" marker-end="url(#a)"/><path d="M1120 600 L1150 556" marker-end="url(#i)"/><path d="M1120 600 L1150 575" marker-end="url(#i)"/><path d="M1120 600 L1150 594" marker-end="url(#i)"/><path d="M1120 600 L1150 618" marker-end="url(#i)"/><path d="M1120 600 L1150 640" marker-end="url(#a)"/><path d="M1120 600 L1150 661" marker-end="url(#i)"/><path d="M1120 600 L1150 680" marker-end="url(#i)"/><path d="M1120 600 L1150 699" marker-end="url(#i)"/>
<rect x="1151" y="511" width="35" height="13" class="P"/><text x="1168.5" y="521" class="c">CDK4/6</text>
<rect x="1151" y="524" width="35" height="13" class="P"/><text x="1168.5" y="534" class="c">CycD</text>
<rect x="1151" y="543" width="35" height="13" class="R"/><text x="1168.5" y="553" class="c">INK4</text>
<rect x="1151" y="562" width="35" height="13" class="L"/><text x="1168.5" y="572" class="c">Rb</text>
<rect x="1151" y="581" width="35" height="13" class="L"/><text x="1168.5" y="591" class="c">Dlg1</text>
<rect x="1151" y="605" width="35" height="13" class="B"/><text x="1168.5" y="615" class="c">ChkI</text>
<rect x="1151" y="627" width="35" height="13" class="L"/><text x="1168.5" y="637" class="c">CDC20</text>
<rect x="1151" y="648" width="35" height="13" class="M"/><text x="1168.5" y="658" class="c">MAD1</text>
<rect x="1151" y="667" width="35" height="13" class="P"/><text x="1168.5" y="677" class="c">TaxBP2</text>
<rect x="1151" y="686" width="35" height="13" class="P"/><text x="1168.5" y="696" class="c">RanBP1</text>
<path class="d" d="M1190 507 Q1196 507 1196 513 V551 L1201 556 L1196 561 V591 Q1196 597 1190 597"/>
<path class="d" d="M1201 556 H1213" marker-end="url(#a)"/>
<text x="1217" y="562">Cell growth</text>
<rect x="1202" y="570" width="84" height="20" rx="9" class="pw"/><text x="1244" y="583" class="c">Cell cycle</text>
<path class="d" d="M1190 611 H1211" marker-end="url(#a)"/>
<text x="1215" y="610">Attenuation of</text><text x="1215" y="619">G2 arrest</text>
<path class="d" d="M1190 623 Q1196 623 1196 629 V656 L1201 661 L1196 666 V696 Q1196 702 1190 702"/>
<path class="d" d="M1201 661 H1218" marker-end="url(#a)"/>
<text x="1222" y="667">Aneuploidy</text>

<rect x="1085" y="716" width="35" height="14" class="w"/><text x="1102.5" y="727" class="c">Tax</text>
<path d="M1120 723 L1150 721" marker-end="url(#i)"/><path d="M1120 723 L1150 741" marker-end="url(#i)"/>
<rect x="1151" y="709" width="35" height="13" class="L"/><text x="1168.5" y="719" class="c">Polβ</text>
<rect x="1151" y="729" width="35" height="13" class="G"/><text x="1168.5" y="739" class="c">p53</text>
<path class="d" d="M1190 721 H1213" marker-end="url(#a)"/>
<text x="1217" y="727">DNA damages</text>
<rect x="1202" y="731" width="84" height="26" rx="10" class="pw"/><text x="1244" y="741" class="c">p53 signaling</text><text x="1244" y="751" class="c">pathway</text>

<!-- ============ KSHV ============ -->
<text x="1295" y="54" class="h">Kaposi's sarcoma-associated</text><text x="1295" y="62" class="h">herpesvirus (KSHV)</text>
<path d="M1314 66 V72 H1324" marker-end="url(#a)"/>
<text x="1328" y="76">Kaposi's sarcoma</text><text x="1328" y="84">Primary effusion lymphoma</text><text x="1328" y="93">Multicentric Castleman's disease</text>
<text x="1330" y="125">Viral product</text><text x="1330" y="133">(encoding gene</text><text x="1330" y="141">or ORF)</text>
<text x="1402" y="125">Cellular</text><text x="1402" y="133">target</text>

<text x="1327" y="158">Oncoprotein</text>
<rect x="1337" y="162" width="35" height="14" class="w"/><text x="1354.5" y="173" class="c">vIRF-1</text>
<path d="M1372 169 L1398 153" marker-end="url(#i)"/><path d="M1372 169 L1398 172" marker-end="url(#i)"/>
<rect x="1399" y="146" width="35" height="13" class="B"/><text x="1416.5" y="156" class="c" style="font-size:8.5px">p300/CBP</text>
<rect x="1399" y="165" width="35" height="13" class="R"/><text x="1416.5" y="175" class="c">IRF3</text>
<path class="d" d="M1438 142 Q1444 142 1444 148 V157 L1449 162 L1444 167 V176 Q1444 182 1438 182"/>
<path class="d" d="M1449 162 H1459" marker-end="url(#a)"/>
<text x="1463" y="165">Anti-interferon</text>
<rect x="1337" y="178" width="35" height="14" class="w"/><text x="1354.5" y="189" class="c">vIRF-2</text>
<rect x="1337" y="197" width="35" height="14" class="w"/><text x="1354.5" y="208" class="c">vIRF-3</text>
<rect x="1337" y="214" width="35" height="14" class="w"/><text x="1354.5" y="225" class="c">vIRF-4</text>
<path d="M1372 204 H1398" marker-end="url(#i)"/><path d="M1372 221 L1398 204"/><path d="M1372 185 L1398 204"/>
<rect x="1399" y="197" width="35" height="13" class="G"/><text x="1416.5" y="207" class="c">p53</text>
<path class="d" d="M1438 204 H1457" marker-end="url(#a)"/>
<text x="1461" y="207">Inhibition of apoptosis</text>
<rect x="1450" y="210" width="82" height="26" rx="10" class="pw"/><text x="1491" y="220" class="c">p53 signaling</text><text x="1491" y="230" class="c">pathway</text>
<rect x="1337" y="234" width="35" height="14" class="w"/><text x="1354.5" y="245" class="c">ORF45</text>
<path d="M1372 241 H1398" marker-end="url(#i)"/>
<rect x="1399" y="234" width="35" height="13" class="M"/><text x="1416.5" y="244" class="c">IRF7</text>
<path class="d" d="M1438 241 H1459" marker-end="url(#a)"/>
<text x="1463" y="245">Anti-interferon</text>
<rect x="1337" y="257" width="35" height="14" class="w"/><text x="1354.5" y="268" class="c">RTA</text>
<path d="M1372 264 H1398" marker-end="url(#i)"/>
<rect x="1399" y="257" width="35" height="13" class="G"/><text x="1416.5" y="267" class="c">p53</text>
<path class="d" d="M1438 264 H1457" marker-end="url(#a)"/>
<text x="1461" y="268">Inhibition of apoptosis</text>

<text x="1328" y="281">Oncoprotein</text>
<rect x="1337" y="284" width="35" height="14" class="w"/><text x="1354.5" y="295" class="c">vIL-6</text>
<path d="M1372 291 H1398" marker-end="url(#a)"/>
<rect x="1399" y="284" width="35" height="13" class="D"/><text x="1416.5" y="294" class="c">gp130</text>
<path class="d" d="M1438 291 H1458" marker-end="url(#a)"/>
<text x="1462" y="289">Proliferation</text><text x="1462" y="297">Angiogenesis</text>

<rect x="1337" y="310" width="35" height="14" class="w"/><text x="1354.5" y="321" class="c">vCCL-1</text>
<rect x="1337" y="331" width="35" height="14" class="w"/><text x="1354.5" y="342" class="c">vCCL-2</text>
<rect x="1337" y="359" width="35" height="14" class="w"/><text x="1354.5" y="370" class="c">vCCL-3</text>
<path d="M1372 317 L1398 310" marker-end="url(#a)"/><path d="M1372 317 L1398 329" marker-end="url(#a)"/><path d="M1372 338 L1398 310" marker-end="url(#a)"/><path d="M1372 338 L1398 349" marker-end="url(#a)"/><path d="M1372 366 H1398" marker-end="url(#a)"/>
<rect x="1399" y="303" width="35" height="13" class="P"/><text x="1416.5" y="313" class="c">CCR5</text>
<rect x="1399" y="322" width="35" height="13" class="L"/><text x="1416.5" y="332" class="c">CCR8</text>
<rect x="1399" y="342" width="35" height="13" class="P"/><text x="1416.5" y="352" class="c">CCR3</text>
<rect x="1399" y="360" width="35" height="13" class="L"/><text x="1416.5" y="370" class="c">CCR4</text>
<path class="d" d="M1438 299 Q1444 299 1444 305 V331 L1449 336 L1444 341 V371 Q1444 377 1438 377"/>
<path class="d" d="M1449 336 H1460" marker-end="url(#a)"/>
<text x="1463" y="336">Chemoattraction</text><text x="1463" y="345">of Th2 cells</text>
<rect x="1450" y="350" width="82" height="27" rx="10" class="pw"/><text x="1491" y="361" class="c">Chemokine signaling</text><text x="1491" y="371" class="c">pathway</text>

<text x="1328" y="384">Oncoprotein</text>
<rect x="1337" y="389" width="35" height="14" class="w"/><text x="1354.5" y="400" class="c" style="font-size:8.5px">KaposinB</text>
<path d="M1372 396 H1398" marker-end="url(#a)"/>
<rect x="1399" y="389" width="35" height="13" class="G"/><text x="1416.5" y="399" class="c">MK2</text>
<path class="d" d="M1438 396 H1459" marker-end="url(#a)"/>
<text x="1463" y="396">Cytokine mRNA</text><text x="1463" y="405">stability</text>

<text x="1328" y="413">Oncoprotein</text>
<rect x="1337" y="417" width="35" height="14" class="w"/><text x="1354.5" y="428" class="c">vFLIP</text>
<path d="M1372 424 H1398" marker-end="url(#a)"/><path d="M1372 424 L1398 443" marker-end="url(#i)"/>
<rect x="1337" y="437" width="35" height="14" class="w"/><text x="1354.5" y="448" class="c">vIAP</text>
<path d="M1372 444 H1398" marker-end="url(#i)"/>
<rect x="1399" y="417" width="35" height="13" class="R"/><text x="1416.5" y="427" class="c">NEMO</text>
<rect x="1399" y="437" width="35" height="13" class="L"/><text x="1416.5" y="447" class="c">Casp3,8</text>
<rect x="1450" y="412" width="82" height="25" rx="10" class="pw"/><text x="1491" y="422" class="c">NF-κB signaling</text><text x="1491" y="432" class="c">pathway</text>
<path class="d" d="M1438 424 H1449"/><path class="d" d="M1438 444 H1460" marker-end="url(#a)"/>
<text x="1465" y="448">Inhibition of apoptosis</text>

<text x="1328" y="468">Oncoprotein</text>
<rect x="1337" y="472" width="35" height="14" class="w"/><text x="1354.5" y="483" class="c">LANA</text>
<path d="M1372 479 L1398 465" marker-end="url(#i)"/><path d="M1372 479 L1398 487" marker-end="url(#i)"/>
<rect x="1399" y="458" width="35" height="13" class="G"/><text x="1416.5" y="468" class="c">p53</text>
<rect x="1399" y="481" width="35" height="13" class="L"/><text x="1416.5" y="491" class="c">Rb</text>
<text x="1328" y="495">Oncoprotein</text>
<rect x="1337" y="499" width="35" height="14" class="w"/><text x="1354.5" y="510" class="c">v-cyclin</text>
<path d="M1372 506 H1398" marker-end="url(#a)"/>
<rect x="1399" y="500" width="35" height="13" class="P"/><text x="1416.5" y="510" class="c">Cdk6</text>
<path class="d" d="M1438 477 Q1444 477 1444 483 V491 L1449 496 L1444 501 V509 Q1444 515 1438 515"/>
<path class="d" d="M1449 496 H1461" marker-end="url(#a)"/>
<text x="1465" y="499">Proliferation</text>
<rect x="1450" y="503" width="82" height="20" rx="9" class="pw"/><text x="1491" y="516" class="c">Cell cycle</text>

<text x="1328" y="539">Oncoprotein</text>
<rect x="1337" y="542" width="35" height="14" class="w"/><text x="1354.5" y="553" class="c">vBcl-2</text>
<path d="M1372 549 L1398 531" marker-end="url(#i)"/><path d="M1372 549 H1398" marker-end="url(#i)"/><path d="M1372 549 L1398 566" marker-end="url(#i)"/>
<rect x="1399" y="524" width="35" height="13" class="R"/><text x="1416.5" y="534" class="c">BAX</text>
<rect x="1399" y="542" width="35" height="13" class="M"/><text x="1416.5" y="552" class="c">BAD</text>
<rect x="1399" y="559" width="35" height="13" class="B"/><text x="1416.5" y="569" class="c">NoxA</text>
<path class="d" d="M1438 520 Q1444 520 1444 526 V544 L1449 549 L1444 554 V568 Q1444 574 1438 574"/>
<path class="d" d="M1449 549 H1461" marker-end="url(#a)"/>
<text x="1465" y="552">Inhibition of apoptosis</text>
<rect x="1450" y="556" width="82" height="21" rx="9" class="pw"/><text x="1491" y="570" class="c">Apoptosis</text>

<rect x="1337" y="581" width="35" height="14" class="w"/><text x="1354.5" y="592" class="c">KCP</text>
<rect x="1337" y="598" width="35" height="14" class="w"/><text x="1354.5" y="609" class="c">MIR1</text>
<rect x="1337" y="615" width="35" height="14" class="w"/><text x="1354.5" y="626" class="c">MIR2</text>
<path d="M1372 588 H1398" marker-end="url(#i)"/><path d="M1372 605 L1398 612" marker-end="url(#i)"/><path d="M1372 622 L1398 612" marker-end="url(#i)"/>
<rect x="1399" y="581" width="35" height="13" class="M"/><text x="1416.5" y="591" class="c">C3</text>
<rect x="1399" y="605" width="35" height="13" class="R"/><text x="1416.5" y="615" class="c">MHC-I</text>
<path class="d" d="M1438 577 Q1444 577 1444 583 V596 L1449 601 L1444 606 V615 Q1444 621 1438 621"/>
<path class="d" d="M1449 601 H1463" marker-end="url(#a)"/>
<text x="1467" y="601">Immune evasion</text><text x="1467" y="610">by KSHV</text>

<text x="1328" y="641">Oncoprotein</text>
<rect x="1337" y="644" width="35" height="14" class="w"/><text x="1354.5" y="655" class="c">vGPCR</text>
<rect x="1337" y="662" width="35" height="14" class="w"/><text x="1354.5" y="673" class="c">K1</text>
<rect x="1337" y="680" width="35" height="14" class="w"/><text x="1354.5" y="691" class="c">K15</text>
<path d="M1372 651 L1398 658" marker-end="url(#a)"/><path d="M1372 669 L1398 658" marker-end="url(#a)"/><path d="M1372 687 H1398" marker-end="url(#a)"/>
<rect x="1399" y="652" width="35" height="13" class="X"/><text x="1416.5" y="662" class="c">PI3K</text>
<rect x="1399" y="680" width="35" height="13" class="R"/><text x="1416.5" y="690" class="c">TRAF</text>
<rect x="1450" y="634" width="82" height="26" rx="10" class="pw"/><text x="1491" y="644" class="c">PI3K-Akt signaling</text><text x="1491" y="654" class="c">pathway</text>
<path class="d" d="M1438 648 Q1444 648 1444 654 V666 L1449 671 L1444 676 V688 Q1444 694 1438 694"/>
<path class="d" d="M1449 671 H1461" marker-end="url(#a)"/>
<text x="1465" y="671">Angiogenesis</text><text x="1465" y="680">Inflammation</text>
<rect x="1337" y="704" width="35" height="14" class="w"/><text x="1354.5" y="715" class="c">vOX2</text>
<path class="d" d="M1372 711 H1459" marker-end="url(#a)"/>
<text x="1463" y="709">Downregulation of</text><text x="1463" y="717">myeloid cell activation</text>
<rect x="1337" y="722" width="35" height="14" class="w"/><text x="1354.5" y="733" class="c">SOX</text>
<path class="d" d="M1372 729 H1459" marker-end="url(#a)"/>
<text x="1463" y="732">Shutoff of host cell</text><text x="1463" y="741">gene expression</text>
<text x="1328" y="748">Oncoprotein</text>
<rect x="1337" y="750" width="35" height="14" class="w"/><text x="1354.5" y="761" class="c">vMIP-1</text>
<path d="M1372 757 H1398" marker-end="url(#a)"/>
<rect x="1399" y="751" width="35" height="13" class="L"/><text x="1416.5" y="761" class="c">CCR8</text>
<path class="d" d="M1438 757 H1461" marker-end="url(#a)"/>
<text x="1465" y="761">Angiogenesis</text>
</svg>
</body></html>
